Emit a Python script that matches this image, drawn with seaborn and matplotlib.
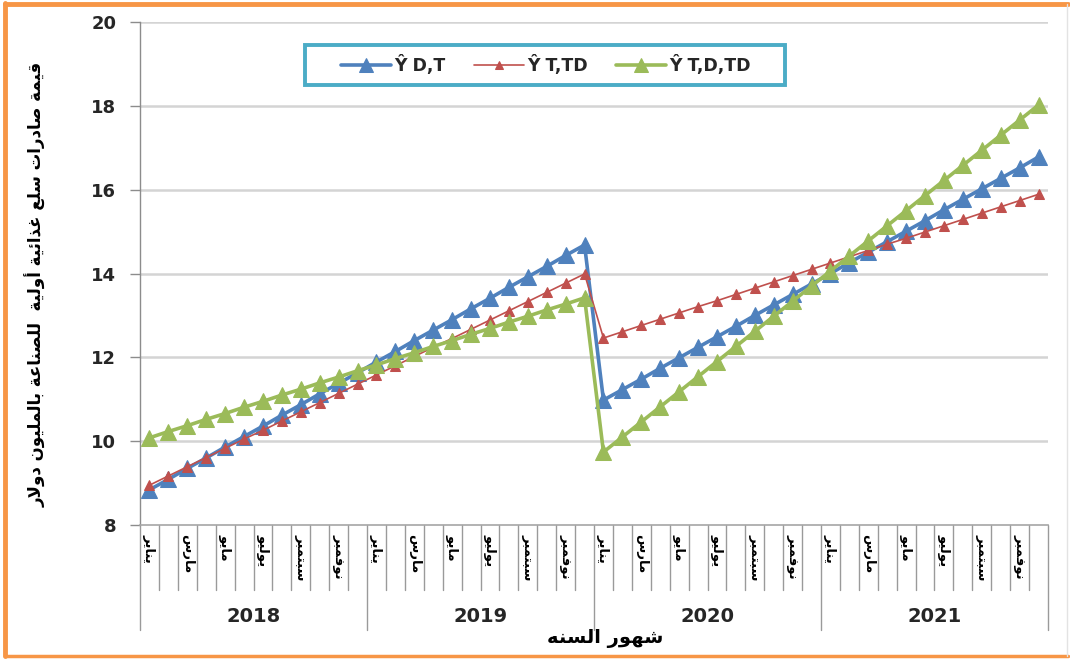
import numpy as np
import pandas as pd
import matplotlib
matplotlib.use("Agg")
import matplotlib.pyplot as plt
import matplotlib.transforms as mtransforms
from matplotlib.lines import Line2D
from matplotlib.patches import Rectangle
import seaborn as sns

# ---------------- data ----------------
years = ["2018", "2019", "2020", "2021"]
month_labels = ["يناير", "مارس", "مايو", "يوليو", "سبتمبر", "نوفمبر"]
series_names = ["Ŷ D,T", "Ŷ T,TD", "Ŷ T,D,TD"]

y_dt = [8.84, 9.09, 9.35, 9.60, 9.86, 10.11, 10.36, 10.62, 10.87, 11.13, 11.38, 11.63,
        11.89, 12.14, 12.40, 12.65, 12.90, 13.16, 13.41, 13.67, 13.92, 14.17, 14.43, 14.68,
        10.98, 11.23, 11.48, 11.74, 11.99, 12.24, 12.49, 12.74, 13.00, 13.25, 13.50, 13.75,
        14.00, 14.26, 14.51, 14.76, 15.01, 15.26, 15.52, 15.77, 16.02, 16.27, 16.52, 16.78]
y_t_td = [8.95, 9.17, 9.39, 9.61, 9.83, 10.05, 10.26, 10.48, 10.70, 10.92, 11.14, 11.36,
          11.58, 11.80, 12.02, 12.24, 12.45, 12.67, 12.89, 13.11, 13.33, 13.55, 13.77, 13.99,
          12.46, 12.61, 12.76, 12.91, 13.06, 13.21, 13.35, 13.50, 13.65, 13.80, 13.95, 14.10,
          14.25, 14.40, 14.55, 14.70, 14.84, 14.99, 15.14, 15.29, 15.44, 15.59, 15.74, 15.89]
y_t_d_td = [10.08, 10.23, 10.37, 10.52, 10.66, 10.81, 10.95, 11.10, 11.24, 11.39, 11.53, 11.68,
            11.82, 11.97, 12.11, 12.26, 12.40, 12.55, 12.69, 12.84, 12.98, 13.13, 13.27, 13.42,
            9.74, 10.10, 10.46, 10.82, 11.18, 11.54, 11.90, 12.26, 12.62, 12.98, 13.34, 13.70,
            14.06, 14.42, 14.78, 15.14, 15.50, 15.86, 16.22, 16.58, 16.94, 17.30, 17.66, 18.02]

y_label_text = "قيمة صادرات سلع غذائية أولية  للصناعة بالمليون دولار"
x_label_text = "شهور السنه"

# ---------------- simple Arabic shaping ----------------
FORMS = {
    '\u0621': ('\uFE80', None, None, None),
    '\u0623': ('\uFE83', '\uFE84', None, None),
    '\u0626': ('\uFE89', '\uFE8A', '\uFE8B', '\uFE8C'),
    '\u0627': ('\uFE8D', '\uFE8E', None, None),
    '\u0628': ('\uFE8F', '\uFE90', '\uFE91', '\uFE92'),
    '\u0629': ('\uFE93', '\uFE94', None, None),
    '\u062A': ('\uFE95', '\uFE96', '\uFE97', '\uFE98'),
    '\u062F': ('\uFEA9', '\uFEAA', None, None),
    '\u0630': ('\uFEAB', '\uFEAC', None, None),
    '\u0631': ('\uFEAD', '\uFEAE', None, None),
    '\u0633': ('\uFEB1', '\uFEB2', '\uFEB3', '\uFEB4'),
    '\u0634': ('\uFEB5', '\uFEB6', '\uFEB7', '\uFEB8'),
    '\u0635': ('\uFEB9', '\uFEBA', '\uFEBB', '\uFEBC'),
    '\u0639': ('\uFEC9', '\uFECA', '\uFECB', '\uFECC'),
    '\u063A': ('\uFECD', '\uFECE', '\uFECF', '\uFED0'),
    '\u0641': ('\uFED1', '\uFED2', '\uFED3', '\uFED4'),
    '\u0642': ('\uFED5', '\uFED6', '\uFED7', '\uFED8'),
    '\u0644': ('\uFEDD', '\uFEDE', '\uFEDF', '\uFEE0'),
    '\u0645': ('\uFEE1', '\uFEE2', '\uFEE3', '\uFEE4'),
    '\u0646': ('\uFEE5', '\uFEE6', '\uFEE7', '\uFEE8'),
    '\u0647': ('\uFEE9', '\uFEEA', '\uFEEB', '\uFEEC'),
    '\u0648': ('\uFEED', '\uFEEE', None, None),
    '\u064A': ('\uFEF1', '\uFEF2', '\uFEF3', '\uFEF4'),
}
LAMALEF = {'\u0627': ('\uFEFB', '\uFEFC'), '\u0623': ('\uFEF7', '\uFEF8')}


def shape(text):
    chars = list(text)
    n = len(chars)

    def dual(c):
        return c in FORMS and FORMS[c][2] is not None

    res = []
    i = 0
    while i < n:
        c = chars[i]
        if c not in FORMS:
            res.append(c)
            i += 1
            continue
        prev = chars[i - 1] if i > 0 else None
        conn_prev = prev is not None and dual(prev)
        if c == '\u0644' and i + 1 < n and chars[i + 1] in LAMALEF:
            iso, fin = LAMALEF[chars[i + 1]]
            res.append(fin if conn_prev else iso)
            i += 2
            continue
        nxt = chars[i + 1] if i + 1 < n else None
        conn_next = dual(c) and nxt is not None and nxt in FORMS
        iso, fin, ini, med = FORMS[c]
        if conn_prev and fin is None:
            conn_prev = False
        if conn_prev and conn_next:
            res.append(med)
        elif conn_prev:
            res.append(fin)
        elif conn_next:
            res.append(ini)
        else:
            res.append(iso)
        i += 1
    return ''.join(reversed(res))


# ---------------- style ----------------
sns.set_style("white")
plt.rcParams['font.family'] = ['DejaVu Sans']

W, H = 1070, 659
fig = plt.figure(figsize=(W / 100, H / 100), dpi=100)
L, R, T, B = 140, 1048, 22, 525
ax = fig.add_axes([L / W, 1 - B / H, (R - L) / W, (B - T) / H])

x = np.arange(len(y_dt))
colors = ["#4F81BD", "#C0504D", "#9BBB59"]
sns.lineplot(x=x, y=y_dt, ax=ax, color=colors[0], linewidth=2.6, marker='^',
             markersize=12, markeredgecolor=colors[0], label=series_names[0], zorder=3)
sns.lineplot(x=x, y=y_t_td, ax=ax, color=colors[1], linewidth=1.2, marker='^',
             markersize=7, markeredgecolor=colors[1], label=series_names[1], zorder=4)
sns.lineplot(x=x, y=y_t_d_td, ax=ax, color=colors[2], linewidth=2.6, marker='^',
             markersize=12, markeredgecolor=colors[2], label=series_names[2], zorder=5)

ax.set_xlim(-0.5, 47.5)
ax.set_ylim(8, 20)
ax.set_yticks([8, 10, 12, 14, 16, 18, 20])
ax.set_yticklabels(["8", "10", "12", "14", "16", "18", "20"], fontsize=13,
                   fontweight='bold', color='#262626')
for yv in [10, 12, 14, 16, 18, 20]:
    ax.axhline(yv, color='#d4d4d4', linewidth=1.8, zorder=1)
ax.set_xticks([])
ax.set_xlabel("")
ax.set_ylabel("")
for s in ['top', 'right']:
    ax.spines[s].set_visible(False)
ax.spines['left'].set_color('#8c8c8c')
ax.spines['bottom'].set_color('#a6a6a6')
ax.spines['left'].set_linewidth(1.0)
ax.spines['bottom'].set_linewidth(1.2)
ax.tick_params(axis='y', left=True, length=7, width=1, color='#8c8c8c', pad=10)

# category-axis separators
trans = mtransforms.blended_transform_factory(ax.transData, ax.transAxes)
h_ax = B - T
month_bot = (B - 590) / h_ax
year_bot = (B - 630) / h_ax
for k in range(49):
    xb = k - 0.5
    yb = year_bot if k % 12 == 0 else month_bot
    ax.add_line(Line2D([xb, xb], [0, yb], transform=trans, color='#9a9a9a',
                       linewidth=1.0, clip_on=False))

# month labels
for yi in range(4):
    for mi, lab in enumerate(month_labels):
        xm = yi * 12 + mi * 2
        ax.text(xm, (B - 534) / h_ax, shape(lab), transform=trans, rotation=270,
                ha='center', va='top', fontsize=9.5, fontweight='bold', color='black')

# year labels
for yi, yl in enumerate(years):
    ax.text(yi * 12 + 5.5, (B - 617) / h_ax, yl, transform=trans, ha='center',
            va='center', fontsize=14, fontweight='bold', color='#262626')

# axis titles
fig.text(605 / W, 1 - 638 / H, shape(x_label_text), ha='center', va='center',
         fontsize=14, fontweight='bold', color='black')
fig.text(36 / W, 1 - 284 / H, shape(y_label_text), ha='center', va='center',
         rotation=90, fontsize=12, fontweight='bold', color='black')

# legend box + legend
box = Rectangle((305 / W, 1 - 85 / H), 480 / W, 40 / H, transform=fig.transFigure,
                facecolor='white', edgecolor='#4BACC6', linewidth=2.8, zorder=8,
                clip_on=False)
ax.add_artist(box)
leg = ax.legend(loc='center', bbox_to_anchor=((546 - L) / (R - L), (B - 65) / h_ax),
                ncol=3, frameon=False, handlelength=2.9, handletextpad=0.2,
                columnspacing=1.6, prop={'weight': 'bold', 'size': 12.5})
leg.set_zorder(10)
for t in leg.get_texts():
    t.set_color('#262626')
for hnd in leg.legend_handles:
    if hnd.get_markersize() > 10:
        hnd.set_markersize(10)
    else:
        hnd.set_markersize(6)

# outer border
fig.add_artist(Line2D([5 / W, 5 / W], [1 - 3 / H, 1 - 656 / H], transform=fig.transFigure,
                      color='#F79646', linewidth=3.5))
fig.add_artist(Line2D([5 / W, 1068 / W], [1 - 4 / H, 1 - 4 / H], transform=fig.transFigure,
                      color='#F79646', linewidth=3.5))
fig.add_artist(Line2D([5 / W, 1068 / W], [1 - 656 / H, 1 - 656 / H], transform=fig.transFigure,
                      color='#F79646', linewidth=2.5))
fig.add_artist(Line2D([1067 / W, 1067 / W], [1 - 4 / H, 1 - 656 / H], transform=fig.transFigure,
                      color='#e3e3e3', linewidth=1.0))

fig.savefig("out.png", dpi=100)
